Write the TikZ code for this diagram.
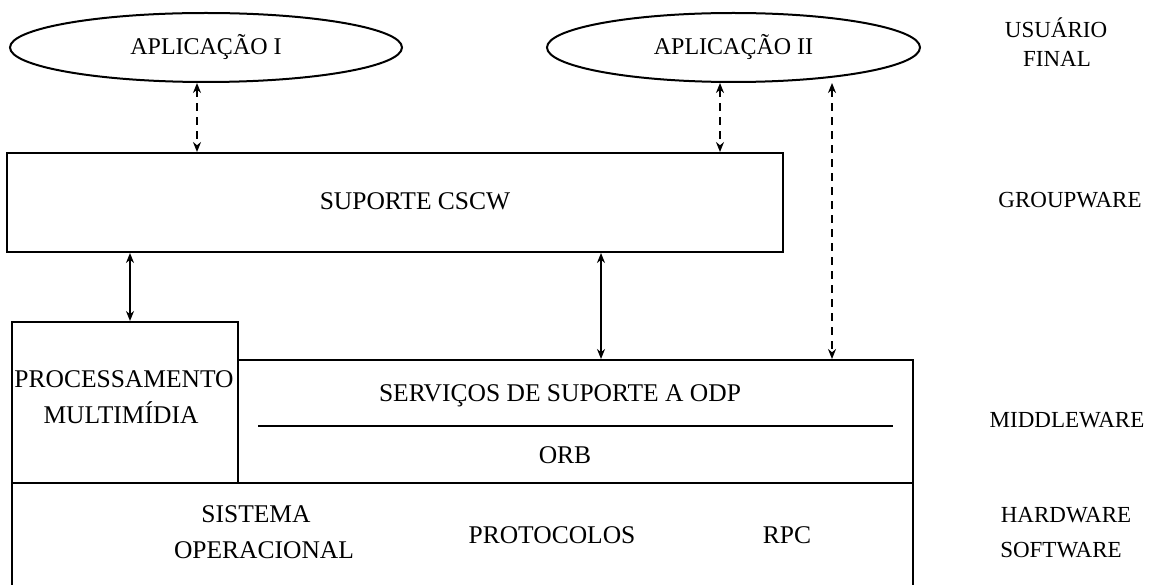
\documentclass[tikz,border=0pt]{standalone}
\usepackage{fontspec}
\setmainfont{Liberation Serif}
\usetikzlibrary{shapes.geometric,arrows.meta}
\begin{document}
\begin{tikzpicture}[x=1pt,y=-1pt,
  box/.style={draw,line width=2pt,inner sep=0pt,rectangle},
  app/.style={draw,line width=2pt,ellipse,inner sep=0pt,font=\fontsize{24}{28}\selectfont},
  txt/.style={inner sep=0pt,anchor=base,font=\fontsize{25.5}{30}\selectfont},
  lay/.style={inner sep=0pt,anchor=base,font=\fontsize{23}{27}\selectfont},
  link/.style={line width=1.8pt,{Stealth[length=10pt,width=8pt]}-{Stealth[length=10pt,width=8pt]}},
  dlink/.style={link,dash pattern=on 8pt off 6pt}]
\clip (0,0) rectangle (1149,585);
\fill[white] (0,0) rectangle (1149,585);
% ellipses
\node[app,minimum width=392pt,minimum height=69pt] (app1) at (206,47.5) {APLICAÇÃO I};
\node[app,minimum width=373pt,minimum height=69pt] (app2) at (733.5,47.5) {APLICAÇÃO II};
% boxes
\node[box,minimum width=776pt,minimum height=99pt] (cscw) at (395,202.5) {};
\node[box,minimum width=226pt,minimum height=161pt] (proc) at (125,402.5) {};
\node[box,minimum width=675pt,minimum height=123pt] (odp) at (575.5,421.5) {};
\node[box,minimum width=901pt,minimum height=137pt] (base) at (462.5,551.5) {};
\draw[line width=1.8pt] (258,426) -- (893,426);
% texts in boxes
\node[txt] (tcscw) at (415,210) {SUPORTE CSCW};
\node[txt] (tproc1) at (124,388) {PROCESSAMENTO};
\node[txt] (tproc2) at (121,423) {MULTIMÍDIA};
\node[txt] (tserv) at (560,401) {SERVIÇOS DE SUPORTE A ODP};
\node[txt] (torb) at (565,463) {ORB};
\node[txt] (tsis1) at (256,522) {SISTEMA};
\node[txt] (tsis2) at (264,558) {OPERACIONAL};
\node[txt] (tprot) at (552,543) {PROTOCOLOS};
\node[txt] (trpc) at (787,543) {RPC};
% layer labels
\node[lay] (l1a) at (1056,38) {USUÁRIO};
\node[lay] (l1b) at (1057,67) {FINAL};
\node[lay] (l2) at (1070,208) {GROUPWARE};
\node[lay] (l3) at (1067,427) {MIDDLEWARE};
\node[lay] (l4a) at (1066,522) {HARDWARE};
\node[lay] (l4b) at (1061,557) {SOFTWARE};
% connectors
\coordinate (c1) at (197,0);
\coordinate (c2) at (720,0);
\coordinate (c3) at (832,0);
\coordinate (c4) at (130,0);
\coordinate (c5) at (601,0);
\draw[dlink] (app1.south -| c1) -- (cscw.north -| c1);
\draw[dlink] (app2.south -| c2) -- (cscw.north -| c2);
\draw[dlink] (app2.south -| c3) -- (odp.north -| c3);
\draw[link] (cscw.south -| c4) -- (proc.north -| c4);
\draw[link] (cscw.south -| c5) -- (odp.north -| c5);
\end{tikzpicture}
\end{document}
